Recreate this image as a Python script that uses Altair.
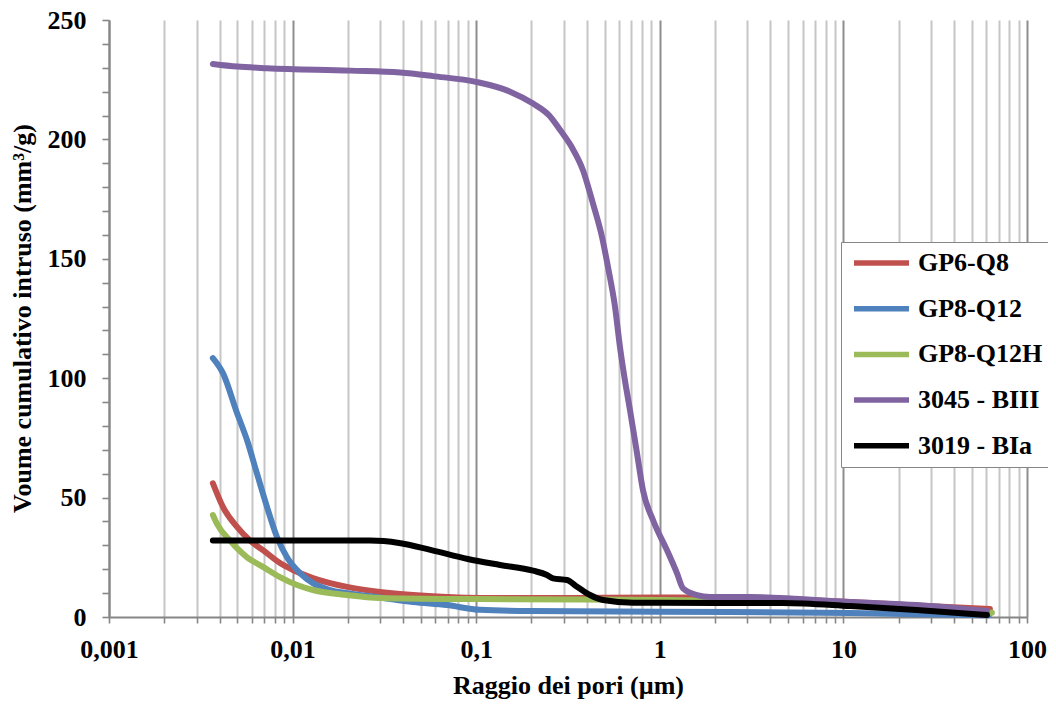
import altair as alt
import pandas as pd

# ---------------- data ----------------
series_names = ["GP6-Q8", "GP8-Q12", "GP8-Q12H", "3045 - BIII", "3019 - BIa"]
series_colors = ["#C0504D", "#4F81BD", "#9BBB59", "#8064A2", "#000000"]

gp6_q8_x = [0.00368, 0.00418, 0.00498, 0.00586, 0.0069, 0.00854, 0.01005, 0.0129,
            0.0198, 0.0299, 0.0453, 0.0693, 0.105, 0.3, 1.0, 2.0, 5.0, 10.9, 25.0, 62.8]
gp6_q8_y = [56, 46, 37.7, 32, 28, 22.6, 19.7, 16.3,
            12.6, 10.5, 9.2, 8.4, 8.0, 8.0, 8.2, 8.2, 7.4, 6.3, 4.8, 3.3]

gp8_q12_x = [0.00368, 0.00418, 0.00498, 0.00565, 0.0064, 0.00726, 0.00822, 0.00932,
             0.01097, 0.0129, 0.016, 0.0198, 0.0299, 0.0453, 0.0693, 0.105, 0.2,
             1.0, 10.9, 50.0, 62.0]
gp8_q12_y = [108.4, 102, 85.4, 74, 60, 46, 33.5, 25,
             18.4, 14.2, 11.3, 10, 8.2, 6.3, 5.0, 3.0, 2.5,
             2.2, 1.7, 0.8, 0.7]

gp8_q12h_x = [0.00368, 0.003875, 0.00456, 0.00565, 0.0069, 0.00854, 0.01057, 0.0129,
              0.0198, 0.0299, 0.105, 1.0, 2.0, 5.0, 10.0, 25.0, 64.4]
gp8_q12h_y = [42.7, 39, 32, 25, 21, 16.7, 13.4, 11.3,
              9.2, 8.0, 7.5, 7.1, 6.8, 6.0, 5.4, 3.5, 1.8]

b3045_x = [0.00368, 0.005, 0.00726, 0.0206, 0.0385, 0.0582, 0.101, 0.153, 0.204, 0.25,
           0.286, 0.33, 0.382, 0.433, 0.485, 0.522, 0.570, 0.607, 0.646, 0.688, 0.751,
           0.810, 0.918, 1.094, 1.24, 1.338, 1.594, 1.877, 3.1, 5.8, 10.9, 25.0, 60.5]
b3045_y = [231.6, 230.5, 229.8, 228.8, 228, 226.5, 224, 220, 215, 210,
           204, 197, 187, 173, 159, 146.6, 130, 113, 99, 86.7, 68.7,
           53, 40.6, 28, 18.4, 12, 9.2, 8.4, 8.4, 7.5, 6.3, 5.0, 2.5]

b3019_x = [0.00368, 0.0264, 0.038, 0.057, 0.09, 0.135, 0.204, 0.243, 0.262, 0.312,
           0.354, 0.417, 0.491, 0.715, 2.0, 4.69, 10.9, 25.0, 60.5]
b3019_y = [32, 32, 31, 28, 24.3, 21.8, 19.4, 17.6, 16.2, 15.5,
           12.7, 9.2, 7.1, 6.0, 5.9, 5.9, 4.6, 2.9, 0.8]

decade_values = [0.001, 0.01, 0.1, 1, 10, 100]
decade_labels = ["0,001", "0,01", "0,1", "1", "10", "100"]
y_major = 50
y_minor = 10
y_max = 250

x_title = "Raggio dei pori (µm)"
y_title = "Voume cumulativo intruso (mm³/g)"

# ---------------- build table ----------------
all_x = [gp6_q8_x, gp8_q12_x, gp8_q12h_x, b3045_x, b3019_x]
all_y = [gp6_q8_y, gp8_q12_y, gp8_q12h_y, b3045_y, b3019_y]
rows = []
for i, (name, xs, ys) in enumerate(zip(series_names, all_x, all_y)):
    for xv, yv in zip(xs, ys):
        rows.append({"serie": name, "ord": i, "r": xv, "v": yv})
df = pd.DataFrame(rows)

x_ticks = [d * m for d in decade_values[:-1] for m in range(1, 10)] + [decade_values[-1]]
y_ticks = list(range(0, y_max + 1, y_minor))

label_expr = ""
for v, l in zip(decade_values, decade_labels):
    label_expr += f"datum.value == {v} ? '{l}' : "
label_expr += "''"
major_test = "indexof([" + ",".join(str(v) for v in decade_values) + "], datum.value) >= 0"

FONT = "Liberation Serif"
AX = "#868686"

x_enc = alt.X(
    "r:Q",
    scale=alt.Scale(type="log", domain=[decade_values[0], decade_values[-1]], nice=False),
    axis=alt.Axis(
        values=x_ticks,
        labelExpr=label_expr,
        grid=True,
        gridColor={"condition": {"test": major_test, "value": "#8e8e8e"}, "value": "#c6c6c6"},
        gridWidth=2,
        domainColor=AX,
        domainWidth=2,
        tickColor=AX,
        tickWidth=1.6,
        tickSize=6,
        labelPadding=34,
        labelBaseline="alphabetic",
        labelFontSize=26,
        labelFontWeight="bold",
        labelColor="black",
        labelFont=FONT,
        labelOverlap=False,
        labelFlush=False,
        title=x_title,
        titleFont=FONT,
        titleFontSize=26,
        titleFontWeight="bold",
        titleColor="black",
        titleX=459,
        titleY=76,
        titleAlign="center",
        titleBaseline="alphabetic",
    ),
)

y_enc = alt.Y(
    "v:Q",
    scale=alt.Scale(domain=[0, y_max], nice=False),
    axis=alt.Axis(
        values=y_ticks,
        labelExpr=f"datum.value % {y_major} == 0 ? datum.label : ''",
        grid=False,
        domainColor=AX,
        domainWidth=2,
        tickColor=AX,
        tickWidth=1.6,
        tickSize=7,
        labelPadding=16,
        labelFontSize=26,
        labelFontWeight="bold",
        labelColor="black",
        labelFont=FONT,
        labelOverlap=False,
        labelFlush=False,
        title=y_title,
        titleFont=FONT,
        titleFontSize=26,
        titleFontWeight="bold",
        titleColor="black",
        titleX=-87,
        titleY=298,
        titleAngle=270,
        titleAlign="center",
        titleBaseline="middle",
    ),
)

lines = alt.Chart(df).mark_line(
    strokeWidth=6, strokeCap="round", strokeJoin="round", interpolate="monotone"
).encode(
    x=x_enc,
    y=y_enc,
    color=alt.Color(
        "serie:N",
        scale=alt.Scale(domain=series_names, range=series_colors),
        legend=alt.Legend(
            title=None,
            orient="none",
            legendX=732,
            legendY=222,
            symbolType="stroke",
            symbolSize=3025,
            symbolStrokeWidth=5.5,
            symbolOffset=2,
            clipHeight=26,
            labelFont=FONT,
            labelFontSize=26,
            labelFontWeight="bold",
            labelColor="black",
            labelOffset=6,
            labelLimit=400,
            padding=8,
            rowPadding=19.7,
            strokeColor=AX,
            fillColor="white",
        ),
    ),
    order=alt.Order("ord:Q"),
)

chart = lines.properties(
    width=918,
    height=597,
    autosize=alt.AutoSizeParams(type="none"),
    padding={"left": 101, "top": 12, "right": 21, "bottom": 82},
    background="white",
).configure_view(stroke=None)

chart.save("out.html", embed_options={"renderer": "svg", "actions": False})
